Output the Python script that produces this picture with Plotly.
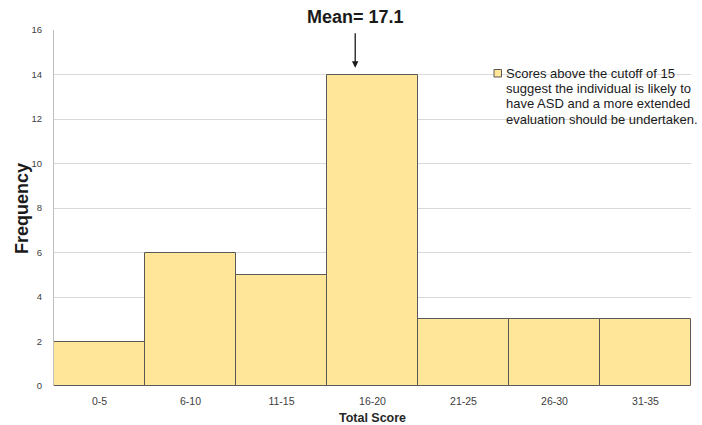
import plotly.graph_objects as go

categories = ["0-5", "6-10", "11-15", "16-20", "21-25", "26-30", "31-35"]
frequency = [2, 6, 5, 14, 3, 3, 3]
mean_label = "Mean= 17.1"
mean_pos = 2.81  # position on category axis (bar index units)
legend_lines = [
    "Scores above the cutoff of 15",
    "suggest the individual is likely to",
    "have ASD and a more extended",
    "evaluation should be undertaken.",
]
x_title = "Total Score"
y_title = "Frequency"

FONT = "Arial, Liberation Sans, sans-serif"
BAR_FILL = "#FFE699"
BAR_LINE = "#595959"

fig = go.Figure()
fig.add_trace(go.Bar(
    x=categories, y=frequency,
    marker=dict(color=BAR_FILL, line=dict(color=BAR_LINE, width=1)),
    showlegend=False,
))

L, R, T, B = 54, 11, 30, 39
W, H = 702, 425
pw, ph = W - L - R, H - T - B

def px_to_paper_x(px):
    return (px - L) / pw

def px_to_paper_y(py):
    return (H - B - py) / ph

fig.update_layout(
    width=W, height=H,
    margin=dict(l=L, r=R, t=T, b=B),
    paper_bgcolor="white", plot_bgcolor="white",
    bargap=0,
    font=dict(family=FONT, color="#404040"),
    xaxis=dict(
        type="category", automargin=False,
        tickfont=dict(size=10.5, color="#404040"),
        ticklabelstandoff=7,
        title=dict(text=f"<b>{x_title}</b>", font=dict(size=12.5, color="#262626"), standoff=9),
        showgrid=False, showline=False, ticks="",
        range=[-0.5, 6.5],
    ),
    yaxis=dict(
        range=[0, 16], dtick=2, automargin=False,
        tickfont=dict(size=9.5, color="#404040"),
        showgrid=True, gridcolor="#d9d9d9", gridwidth=1,
        showline=True, linecolor="#bfbfbf", linewidth=1,
        zeroline=False, ticks="",
        ticklabelstandoff=9,
    ),
)

# Y axis title placed precisely
fig.add_annotation(
    x=px_to_paper_x(22), xref="paper", y=px_to_paper_y(209), yref="paper",
    text=f"<b>{y_title}</b>", textangle=-90, showarrow=False,
    font=dict(size=18, color="#1a1a1a", family=FONT),
    xanchor="center", yanchor="middle",
)

# Mean label and arrow
fig.add_annotation(
    x=mean_pos, xref="x", y=px_to_paper_y(17), yref="paper",
    text=f"<b>{mean_label}</b>", showarrow=False,
    font=dict(size=18, color="#1a1a1a", family=FONT),
    xanchor="center", yanchor="middle",
)
fig.add_annotation(
    x=mean_pos, xref="x", y=14.3, yref="y",
    text="", showarrow=True, ax=0, ay=-36,
    arrowhead=2, arrowsize=1, arrowwidth=1.3, arrowcolor="#1a1a1a",
)

# Legend-like key
fig.add_shape(
    type="rect", xref="paper", yref="paper",
    x0=px_to_paper_x(494), x1=px_to_paper_x(501.5),
    y0=px_to_paper_y(77), y1=px_to_paper_y(69.5),
    fillcolor=BAR_FILL, line=dict(color="#595959", width=1),
)
for i, line in enumerate(legend_lines):
    fig.add_annotation(
        x=px_to_paper_x(504), xref="paper",
        y=px_to_paper_y(73.3 + 15.3 * i), yref="paper",
        text=line, showarrow=False, align="left",
        xanchor="left", yanchor="middle",
        font=dict(size=13, color="#1a1a1a", family=FONT),
    )

fig.write_html("out.html", post_script="document.body.style.margin='0';",
               config={"displayModeBar": False})
